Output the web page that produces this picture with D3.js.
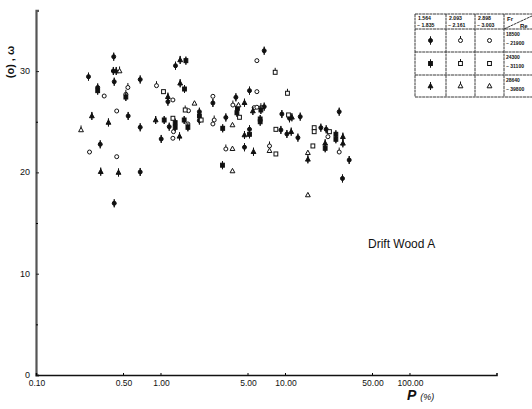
<!DOCTYPE html>
<html><head><meta charset="utf-8">
<script src="https://cdn.jsdelivr.net/npm/d3@7"></script>
<style>
html,body{margin:0;padding:0;background:#fff;}
text{font-family:"Liberation Sans","DejaVu Sans",sans-serif;fill:#111;}
</style></head>
<body><svg id="c" width="532" height="409"></svg>
<script>
// ---- data (x = P %, y = angle) ----
const circleFilled = [[0.264,29.45],[0.313,28.38],[0.328,22.77],[0.421,31.42],[0.418,30.01],[0.425,28.95],[0.425,16.95],[0.550,25.57],[0.687,29.17],[0.687,24.45],[0.687,20.04],[1.013,23.30],[1.147,26.98],[1.175,24.51],[1.320,30.53],[2.053,25.99],[2.053,25.12],[2.636,26.85],[3.350,25.42],[4.033,27.41],[4.728,22.48],[5.188,28.07],[5.188,24.25],[6.808,26.49],[6.808,32.01],[9.27,24.19],[9.44,25.76],[10.87,25.34],[10.36,23.79],[12.70,23.43],[13.25,25.50],[19.42,24.41],[21.43,24.25],[27.25,25.99],[32.79,21.22],[28.97,19.40]];
const circleStem = [[0.547,28.38],[0.527,27.71],[0.929,28.56],[2.700,25.17],[3.350,22.31],[3.815,26.65],[6.403,26.39],[7.51,22.61],[27.25,22.01]];
const circleOpen = [[0.269,22.01],[0.353,27.54],[0.445,26.06],[0.445,21.55],[1.258,27.15],[1.272,24.02],[1.258,23.37],[1.679,26.09],[1.660,24.78],[2.636,27.51],[2.636,24.78],[5.946,27.97],[5.658,26.39],[5.946,26.43],[5.946,31.03],[22.12,23.52]];
const squareFilled = [[0.313,28.07],[0.527,27.44],[1.071,25.17],[1.312,24.91],[1.312,24.45],[1.600,31.03],[1.559,28.23],[1.550,25.17],[1.660,24.45],[2.053,25.57],[3.160,24.35],[3.147,20.71],[4.151,26.33],[4.109,25.89],[5.188,23.76],[6.403,26.16],[6.32,25.27],[6.32,25.00],[21.03,22.38],[25.63,23.76],[25.63,23.27]];
const squareStem = [[1.579,26.16],[8.34,29.88],[10.47,27.81]];
const squareOpen = [[1.057,27.97],[1.258,25.34],[2.123,25.17],[4.311,25.44],[8.45,21.82],[8.45,24.25],[10.67,25.67],[16.75,22.61],[17.16,24.41],[17.16,24.02],[22.77,24.02]];
const triangleFilled = [[0.281,25.57],[0.331,20.07],[0.382,24.93],[0.441,30.01],[0.460,19.99],[0.915,25.17],[1.147,27.47],[1.422,23.56],[1.439,31.10],[1.439,28.80],[4.728,26.88],[4.728,23.69],[5.585,22.04],[5.52,26.06],[11.36,25.44],[11.22,24.02],[15.27,21.29],[21.03,22.87],[29.18,23.52],[29.18,22.87]];
const triangleStem = [[0.230,24.19],[0.469,30.01]];
const triangleOpen = [[1.875,26.82],[3.786,22.34],[3.786,20.14],[3.786,24.68],[4.232,26.65],[7.51,22.14],[15.27,21.94],[15.27,17.77]];

const xTicks = [0.1,0.5,1,5,10,50,100];
const yTicks = [0,10,20,30];
const yMinorTicks = [5,15,25];
const frHeaders = [["1.564","~ 1.835"],["2.093","~ 2.161"],["2.898","~ 3.003"]];
const reHeaders = [["18500","~ 21900"],["24300","~ 31100"],["28640","~ 39800"]];
const shapes = ["circle","square","triangle"];
const styles = ["filled","stem","open"];
const seriesTable = [
  {shape:"circle",style:"filled",data:circleFilled},
  {shape:"circle",style:"stem",data:circleStem},
  {shape:"circle",style:"open",data:circleOpen},
  {shape:"square",style:"filled",data:squareFilled},
  {shape:"square",style:"stem",data:squareStem},
  {shape:"square",style:"open",data:squareOpen},
  {shape:"triangle",style:"filled",data:triangleFilled},
  {shape:"triangle",style:"stem",data:triangleStem},
  {shape:"triangle",style:"open",data:triangleOpen}
];

const svg = d3.select("#c");
const x = d3.scaleLog().domain([0.1,500]).range([36,496.5]);
const y = d3.scaleLinear().domain([0,36]).range([375,10.3]);

// axes
const yAxis = d3.axisRight(y).tickValues(yTicks).tickSize(3).tickFormat("");
const yg = svg.append("g").attr("transform","translate(36,0)").call(yAxis);
yg.select(".domain").attr("stroke","#555").attr("stroke-width",2.2);
yg.selectAll(".tick line").attr("stroke","#222");
svg.append("g").attr("transform","translate(36,0)")
  .call(d3.axisRight(y).tickValues(yMinorTicks).tickSize(2).tickFormat(""))
  .call(g=>g.select(".domain").remove());
svg.append("g").selectAll("text").data(yTicks).join("text")
  .attr("x",30).attr("y",d=>y(d)+3).attr("text-anchor","end")
  .attr("font-size",9).text(d=>d);

const xAxis = d3.axisTop(x).tickValues(xTicks).tickSize(2).tickFormat("");
const xg = svg.append("g").attr("transform","translate(0,375)").call(xAxis);
xg.select(".domain").attr("stroke","#111").attr("stroke-width",1.6);
svg.append("g").selectAll("text").data(xTicks).join("text")
  .attr("x",d=>x(d)+1).attr("y",385.5).attr("text-anchor","middle")
  .attr("font-size",8.5).text(d=>d3.format(".2f")(d));

// axis titles
const xt = svg.append("text").attr("x",407).attr("y",400);
xt.append("tspan").attr("font-size",14).attr("font-style","italic").attr("font-weight","bold").text("P");
xt.append("tspan").attr("font-size",9).attr("font-style","italic").attr("dx",4).text("(%)");
svg.append("text").attr("transform","translate(14,62) rotate(-90)")
  .attr("text-anchor","middle").attr("font-size",11).attr("font-weight","bold").text("(o) , ω");
svg.append("text").attr("x",368).attr("y",248).attr("font-size",12)
  .attr("font-family","'DejaVu Sans'").text("Drift Wood A");

// marker
function marker(g, shape, style){
  const fill = style==="filled" ? "#111" : "#fff";
  if(style!=="open"){
    g.append("line").attr("x1",0).attr("x2",0)
     .attr("y1", style==="filled" ? -4 : -4.5).attr("y2", style==="filled" ? 4 : 0)
     .attr("stroke","#111").attr("stroke-width",1);
  }
  if(shape==="circle") g.append("circle").attr("r",2);
  else if(shape==="square") g.append("rect").attr("x",-1.9).attr("y",-2).attr("width",3.8).attr("height",4);
  else g.append("path").attr("d","M0,-2.6L2.4,1.8L-2.4,1.8Z");
  g.selectAll("circle,rect,path").attr("fill",fill).attr("stroke","#111").attr("stroke-width",1);
  if(style==="filled"){
    g.append("line").attr("x1",0).attr("x2",0).attr("y1",-4).attr("y2",4)
     .attr("stroke","#111").attr("stroke-width",1);
  }
}

const pts = svg.append("g");
seriesTable.forEach(s=>{
  pts.selectAll(null).data(s.data).join("g")
    .attr("transform",d=>`translate(${x(d[0])},${y(d[1])})`)
    .each(function(){ marker(d3.select(this), s.shape, s.style); });
});

// legend table
const colX = [415,446,475,504,545];
const rowY = [14,29,52,75,97];
const lg = svg.append("g");
const lineStyle = sel=>sel.attr("stroke","#222").attr("stroke-width",0.9).attr("stroke-dasharray","3,0.6");
colX.slice(0,4).forEach(cx=>lg.append("line").attr("x1",cx).attr("x2",cx).attr("y1",rowY[0]).attr("y2",rowY[4]).call(lineStyle));
rowY.forEach(ry=>lg.append("line").attr("x1",colX[0]).attr("x2",532).attr("y1",ry).attr("y2",ry).call(lineStyle));
lg.append("line").attr("x1",colX[3]).attr("y1",rowY[1]).attr("x2",532).attr("y2",rowY[0]+2).call(lineStyle);
frHeaders.forEach((h,i)=>{
  lg.append("text").attr("x",colX[i]+3).attr("y",rowY[0]+6).attr("font-size",5.2).attr("font-weight","bold").text(h[0]);
  lg.append("text").attr("x",colX[i]+2).attr("y",rowY[0]+13).attr("font-size",5.2).attr("font-weight","bold").text(h[1]);
});
lg.append("text").attr("x",colX[3]+3).attr("y",rowY[0]+7).attr("font-size",6).attr("font-weight","bold").text("Fr");
lg.append("text").attr("x",colX[3]+16).attr("y",rowY[0]+13.5).attr("font-size",6).attr("font-weight","bold").text("Re");
reHeaders.forEach((h,i)=>{
  lg.append("text").attr("x",colX[3]+2).attr("y",rowY[i+1]+7).attr("font-size",5).attr("font-weight","bold").text(h[0]);
  lg.append("text").attr("x",colX[3]+2).attr("y",rowY[i+1]+16).attr("font-size",5).attr("font-weight","bold").text(h[1]);
});
shapes.forEach((sh,r)=>styles.forEach((st,c)=>{
  const g = lg.append("g").attr("transform",`translate(${(colX[c]+colX[c+1])/2},${(rowY[r+1]+rowY[r+2])/2})`);
  marker(g, sh, st);
}));
</script></body></html>
